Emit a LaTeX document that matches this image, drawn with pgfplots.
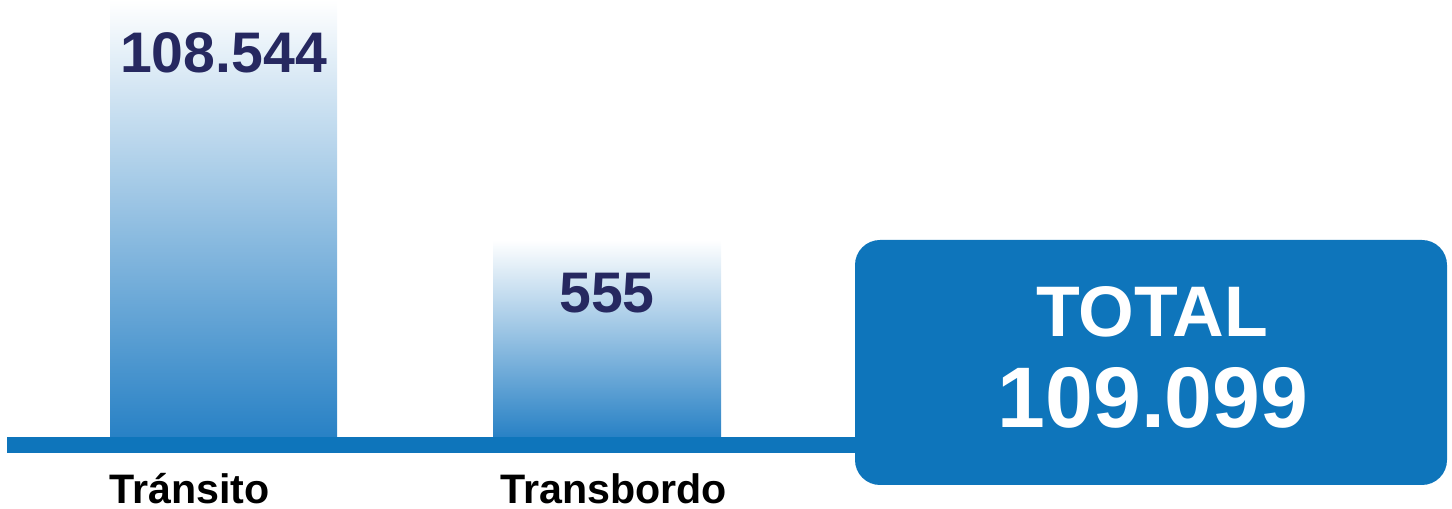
\documentclass[border=0pt]{standalone}
\usepackage{pgfplots}
\pgfplotsset{compat=1.18}
\usepackage{fontspec}
\setmainfont{Liberation Sans}
\definecolor{barblue}{RGB}{14,117,187}
\definecolor{navy}{RGB}{38,40,96}
\definecolor{gradbot}{RGB}{40,129,197}
\definecolor{gradmid}{RGB}{150,195,228}
\begin{document}
\begin{tikzpicture}
\begin{axis}[
  scale only axis, width=726bp, height=254.5bp,
  xmin=0, xmax=1452, ymin=-72, ymax=437,
  axis lines=none, clip=false,
  xtick=\empty, ytick=\empty,
  point meta=explicit symbolic,
]
\path (axis cs:0,-72) rectangle (axis cs:1452,437);
% baseline
\fill[barblue] (axis cs:7,0) rectangle (axis cs:857,-16);
% bars (display heights; labels carry the values)
\addplot[ybar, bar width=113.5bp, bar shift=0pt, draw=none,
  top color=white, middle color=gradmid, bottom color=gradbot,
  nodes near coords,
  nodes near coords style={anchor=base, yshift=-36.5bp, inner sep=0pt,
    font=\fontsize{28.6bp}{30bp}\selectfont\bfseries, text=navy}]
  coordinates {(223.5,437) [108.544]};
\addplot[ybar, bar width=114bp, bar shift=0pt, draw=none,
  top color=white, middle color=gradmid, bottom color=gradbot,
  nodes near coords,
  nodes near coords style={anchor=base, yshift=-36.5bp, inner sep=0pt,
    font=\fontsize{28.6bp}{30bp}\selectfont\bfseries, text=navy}]
  coordinates {(607,197) [555]};
% category labels
\node[anchor=base west, inner sep=0pt, font=\fontsize{20.6bp}{22bp}\selectfont\bfseries] at (axis cs:109,-66) {Tránsito};
\node[anchor=base west, inner sep=0pt, font=\fontsize{20.6bp}{22bp}\selectfont\bfseries] at (axis cs:500,-66) {Transbordo};
% total box
\fill[barblue, rounded corners=12.5bp] (axis cs:855,197) rectangle (axis cs:1447,-48);
\node[anchor=base, inner sep=0pt, text=white, font=\fontsize{35.8bp}{38bp}\selectfont\bfseries] at (axis cs:1152,100) {TOTAL};
\node[anchor=base, inner sep=0pt, text=white, font=\fontsize{43bp}{46bp}\selectfont\bfseries] at (axis cs:1153,9) {109.099};
\end{axis}
\end{tikzpicture}
\end{document}
